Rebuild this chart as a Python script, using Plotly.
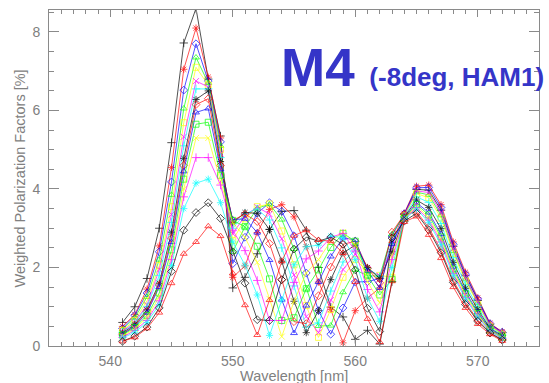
import plotly.graph_objects as go

wavelength = list(range(541, 573))

# 16 curves (IDL colour / symbol cycle)
s00_black_plus = [0.60,1.00,1.72,3.00,5.18,7.72,8.60,6.80,5.35, 1.48,1.75,2.35,2.97,3.43,3.45,2.95,2.00,0.99,0.74,0.17,0.40,0.05, 1.64,3.36,3.99,3.97,3.46,2.54,1.79,1.16,0.55,0.34]
s01_red_star = [0.50,0.80,1.45,2.55,4.55,7.05,8.10,6.85,5.30, 1.75,2.04,2.89,3.48,3.60,3.29,2.53,1.63,0.93,0.08,0.90,1.22,1.48, 2.64,3.38,4.07,4.10,3.60,2.65,1.88,1.23,0.58,0.36]
s02_blue_diamond = [0.45,0.78,1.35,2.40,4.18,6.52,7.70,6.75,5.20, 2.10,2.77,3.38,3.65,3.43,2.81,1.86,0.90,0.30,0.97,1.63,1.64,1.72, 2.80,3.37,4.03,4.04,3.53,2.59,1.83,1.20,0.57,0.35]
s03_green_triangle = [0.42,0.72,1.25,2.20,3.85,6.05,7.35,6.70,5.10, 2.40,3.04,3.51,3.61,3.22,2.47,1.46,0.51,0.52,1.37,1.94,1.79,1.78, 2.85,3.34,3.92,3.85,3.33,2.42,1.70,1.10,0.52,0.31]
s04_yellow_square = [0.40,0.65,1.15,2.05,3.55,5.69,7.10,6.65,5.00, 2.69,3.24,3.55,3.62,2.93,2.07,1.03,0.22,0.93,1.75,2.20,1.91,1.80, 1.75,3.33,3.88,3.78,3.26,2.36,1.65,1.06,0.51,0.30]
s05_magenta_x = [0.38,0.60,1.05,1.95,3.35,5.33,6.75,6.60,4.90, 2.86,3.32,3.54,3.36,2.73,1.81,0.75,0.34,1.17,1.95,2.34,1.95,1.79, 2.50,3.35,3.95,3.91,3.40,2.48,1.74,1.13,0.54,0.33]
s06_cyan_plus = [0.35,0.58,1.00,1.80,3.15,5.10,6.55,6.55,4.80, 3.00,3.37,3.49,3.21,2.50,1.53,0.48,0.59,1.40,2.14,2.45,1.98,1.77, 2.60,3.30,3.80,3.66,3.12,2.25,1.56,1.00,0.48,0.28]
s07_black_star = [0.33,0.55,0.92,1.60,2.90,4.78,6.28,6.50,4.70, 3.14,3.40,3.38,2.97,2.16,1.14,0.34,0.90,1.69,2.37,2.57,2.00,1.72, 2.40,3.28,3.72,3.53,2.99,2.13,1.47,0.93,0.45,0.26]
s08_red_diamond = [0.30,0.52,0.88,1.55,2.75,4.60,6.15,6.30,4.60, 3.20,3.36,3.17,2.61,1.69,0.62,0.57,1.28,2.01,2.59,2.67,1.98,1.61, 2.90,3.35,3.42,3.02,2.44,1.67,1.11,0.66,0.34,0.16]
s09_blue_triangle = [0.30,0.50,0.85,1.50,2.65,4.45,5.95,6.05,4.50, 3.22,3.24,2.89,2.19,1.18,0.33,1.03,1.63,2.28,2.76,2.70,1.91,1.48, 2.60,3.26,3.65,3.40,2.85,2.02,1.38,0.86,0.43,0.23]
s10_green_square = [0.28,0.47,0.78,1.35,2.45,4.25,5.65,5.70,4.35, 3.20,3.04,2.54,1.71,0.65,0.72,1.46,1.94,2.51,2.87,2.67,1.79,1.30, 1.70,3.25,3.61,3.34,2.78,1.96,1.33,0.83,0.41,0.22]
s11_yellow_x = [0.25,0.44,0.72,1.25,2.30,4.00,5.30,5.30,4.20, 3.14,2.77,2.13,1.20,0.24,1.14,1.86,2.20,2.67,2.90,2.57,1.64,1.10, 2.30,3.24,3.57,3.27,2.72,1.90,1.29,0.79,0.40,0.21]
s12_magenta_plus = [0.22,0.40,0.65,1.15,2.20,3.80,4.80,4.80,4.10, 2.95,2.43,1.67,0.65,0.65,1.62,2.22,2.42,2.77,2.87,2.42,1.44,0.87, 2.20,3.23,3.53,3.21,2.65,1.85,1.24,0.76,0.38,0.20]
s13_cyan_star = [0.20,0.35,0.60,1.05,2.05,3.50,4.15,4.25,3.65, 2.65,2.06,1.30,0.27,1.18,2.07,2.53,2.57,2.80,2.76,2.20,1.22,0.63, 2.00,3.22,3.49,3.15,2.58,1.79,1.20,0.73,0.37,0.19]
s14_black_diamond = [0.12,0.25,0.48,0.97,1.90,2.95,3.40,3.65,3.25, 2.40,1.60,0.67,0.65,1.69,2.47,2.77,2.67,2.77,2.59,1.94,0.96,0.37, 2.75,3.18,3.38,2.96,2.38,1.62,1.06,0.63,0.33,0.15]
s15_red_triangle = [0.12,0.22,0.45,0.85,1.60,2.35,2.65,3.05,2.80, 1.85,1.04,0.28,1.17,2.16,2.81,2.95,2.70,2.67,2.37,1.63,0.69,0.10, 1.65,3.16,3.30,2.83,2.24,1.50,0.97,0.56,0.30,0.13]

series = [s00_black_plus, s01_red_star, s02_blue_diamond, s03_green_triangle,
          s04_yellow_square, s05_magenta_x, s06_cyan_plus, s07_black_star,
          s08_red_diamond, s09_blue_triangle, s10_green_square, s11_yellow_x,
          s12_magenta_plus, s13_cyan_star, s14_black_diamond, s15_red_triangle]

colors = ["#000000", "#FF0000", "#0000FF", "#00FF00", "#FFFF00", "#FF00FF", "#00FFFF"]
symbols = ["cross-thin-open", "asterisk-open", "diamond-open",
           "triangle-up-open", "square-open", "x-thin-open"]

x_ticks = [540, 550, 560, 570]
y_ticks = [0, 2, 4, 6, 8]

fig = go.Figure()
for i, vals in enumerate(series):
    c = colors[i % len(colors)]
    fig.add_trace(go.Scatter(
        x=wavelength, y=vals, mode="lines+markers",
        line=dict(color=c, width=0.8),
        marker=dict(symbol=symbols[i % len(symbols)], size=6,
                    color=c, line=dict(color=c, width=0.8)),
        opacity=0.85, showlegend=False, hoverinfo="skip"))

axis_gray = "#8a8a8a"
tickfont = dict(family="Liberation Sans, Arial, sans-serif", size=14, color="#808080")

fig.update_xaxes(range=[535, 575], tickvals=x_ticks, ticks="inside", ticklen=7,
                 tickcolor=axis_gray, showline=True, linecolor=axis_gray, linewidth=1,
                 mirror="allticks", showgrid=False, zeroline=False, tickfont=tickfont,
                 ticklabelstandoff=2,
                 minor=dict(dtick=1, ticks="inside", ticklen=4, tickcolor=axis_gray, showgrid=False))
fig.update_yaxes(range=[0, 8.56], tickvals=y_ticks, ticks="inside", ticklen=10,
                 tickcolor=axis_gray, showline=True, linecolor=axis_gray, linewidth=1,
                 mirror="allticks", showgrid=False, zeroline=False, tickfont=tickfont,
                 ticklabelstandoff=5,
                 minor=dict(dtick=0.5, ticks="inside", ticklen=5, tickcolor=axis_gray, showgrid=False))

title_font = dict(family="Liberation Sans, Arial, sans-serif", size=14.5, color="#808080")
fig.add_annotation(text="Weighted Polarization Factors [%]", xref="paper", yref="paper",
                   x=(20 - 49) / 490, y=0.4985, xanchor="center", yanchor="middle",
                   textangle=-90, showarrow=False, font=title_font)
fig.add_annotation(text="Wavelength [nm]", xref="paper", yref="paper",
                   x=0.499, y=(346 - 376) / 336, xanchor="center", yanchor="middle",
                   showarrow=False, font=title_font)
fig.add_annotation(text="<b>M4 <span style='font-size:26px'>(-8deg, HAM1)</span></b>",
                   xref="paper", yref="paper", x=(279 - 49) / 490, y=(346 - 99) / 336,
                   xanchor="left", yanchor="bottom", showarrow=False,
                   font=dict(family="Liberation Sans, Arial, sans-serif", size=53, color="#3535C8"))

fig.update_layout(width=549, height=383, margin=dict(l=49, r=10, t=10, b=37),
                  paper_bgcolor="white", plot_bgcolor="white", showlegend=False)

fig.write_html("out.html")
